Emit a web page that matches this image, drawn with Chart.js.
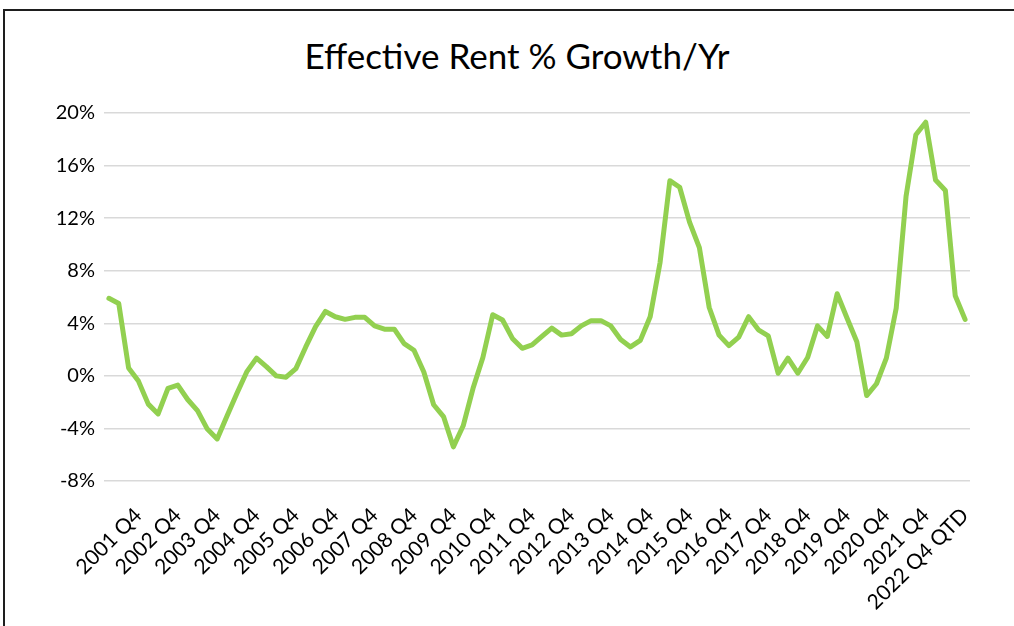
<!DOCTYPE html>
<html lang="en">
<head>
    <meta charset="UTF-8">
    <title>Effective Rent % Growth/Yr</title>
    <script src="https://cdn.jsdelivr.net/npm/chart.js"></script>
    <style>
        html, body {
            margin: 0;
            padding: 0;
            width: 1014px;
            height: 626px;
            overflow: hidden;
            background: #fff;
            font-family: Lato, sans-serif;
        }

        /* frame around the chart, only top and left edges are in view */
        .frame {
            position: absolute;
            left: 3px;
            top: 9px;
            width: 1100px;
            height: 700px;
            border: 2px solid #1e1e1e;
        }

        .title {
            position: absolute;
            left: 0;
            top: 38px;
            width: 1034px;
            text-align: center;
            font-size: 35px;
            line-height: 35px;
            color: #000;
        }

        canvas {
            position: absolute;
            left: 0;
            top: 0;
        }
    </style>
</head>
<body>
    <div class="frame"></div>
    <div class="title">Effective Rent % Growth/Yr</div>
    <canvas id="rentChart" width="1014" height="626"></canvas>

    <script>
        // quarters run 2001 Q1 .. 2022 Q4, only the Q4 ones get a label
        const years = [2001, 2002, 2003, 2004, 2005, 2006, 2007, 2008, 2009, 2010, 2011,
                       2012, 2013, 2014, 2015, 2016, 2017, 2018, 2019, 2020, 2021, 2022];
        const quarters = ['Q1', 'Q2', 'Q3', 'Q4'];
        const lastSuffix = ' QTD';

        // effective rent growth, % per year
        const rentGrowth = [
            5.9, 5.5, 0.6, -0.4, -2.15, -2.9, -0.95, -0.7, -1.8, -2.65, -4.05, -4.8,
            -3.05, -1.35, 0.3, 1.35, 0.7, 0.0, -0.1, 0.55, 2.2, 3.75, 4.9, 4.5,
            4.3, 4.45, 4.45, 3.8, 3.55, 3.55, 2.45, 1.95, 0.3, -2.2, -3.1, -5.4,
            -3.8, -0.95, 1.4, 4.65, 4.25, 2.85, 2.1, 2.35, 3.0, 3.63, 3.1, 3.2,
            3.8, 4.2, 4.2, 3.8, 2.77, 2.2, 2.7, 4.5, 8.6, 14.85, 14.35, 11.7,
            9.75, 5.2, 3.1, 2.3, 2.95, 4.5, 3.5, 3.05, 0.2, 1.35, 0.2, 1.4,
            3.8, 3.0, 6.25, 4.4, 2.6, -1.5, -0.6, 1.35, 5.15, 13.65, 18.35, 19.3,
            14.9, 14.1, 6.1, 4.3
        ];

        const yMin = -8;
        const yMax = 20;
        const yStep = 4;

        const labels = [];
        years.forEach(y => quarters.forEach(q => labels.push(y + ' ' + q)));
        labels[labels.length - 1] += lastSuffix;

        new Chart(document.getElementById('rentChart'), {
            type: 'line',
            data: {
                labels: labels,
                datasets: [{
                    label: 'Effective Rent % Growth/Yr',
                    data: rentGrowth,
                    borderColor: '#92D050',
                    borderWidth: 5,
                    borderCapStyle: 'round',
                    borderJoinStyle: 'round',
                    pointRadius: 0,
                    tension: 0,
                    fill: false
                }]
            },
            options: {
                responsive: false,
                animation: false,
                layout: {
                    padding: { top: 113, right: 44, bottom: 0, left: 0 }
                },
                plugins: {
                    legend: { display: false },
                    title: { display: false },
                    tooltip: { enabled: false }
                },
                scales: {
                    x: {
                        offset: true,
                        grid: { display: false, drawTicks: false },
                        border: { display: false },
                        ticks: {
                            autoSkip: false,
                            minRotation: 45,
                            maxRotation: 45,
                            padding: 22,
                            color: '#000',
                            font: { family: 'Lato', size: 21 },
                            callback: function (value) {
                                const s = this.getLabelForValue(value);
                                return (s.endsWith('Q4') || s.endsWith(lastSuffix)) ? s : '';
                            }
                        },
                        afterFit: scale => { scale.height = 145; }
                    },
                    y: {
                        min: yMin,
                        max: yMax,
                        grid: { color: '#d9d9d9', lineWidth: 1.5, drawTicks: false },
                        border: { display: false },
                        ticks: {
                            stepSize: yStep,
                            padding: 9,
                            color: '#000',
                            font: { family: 'Lato', size: 20 },
                            callback: v => v + '%'
                        },
                        afterFit: scale => { scale.width = 104; }
                    }
                }
            }
        });
    </script>
</body>
</html>
